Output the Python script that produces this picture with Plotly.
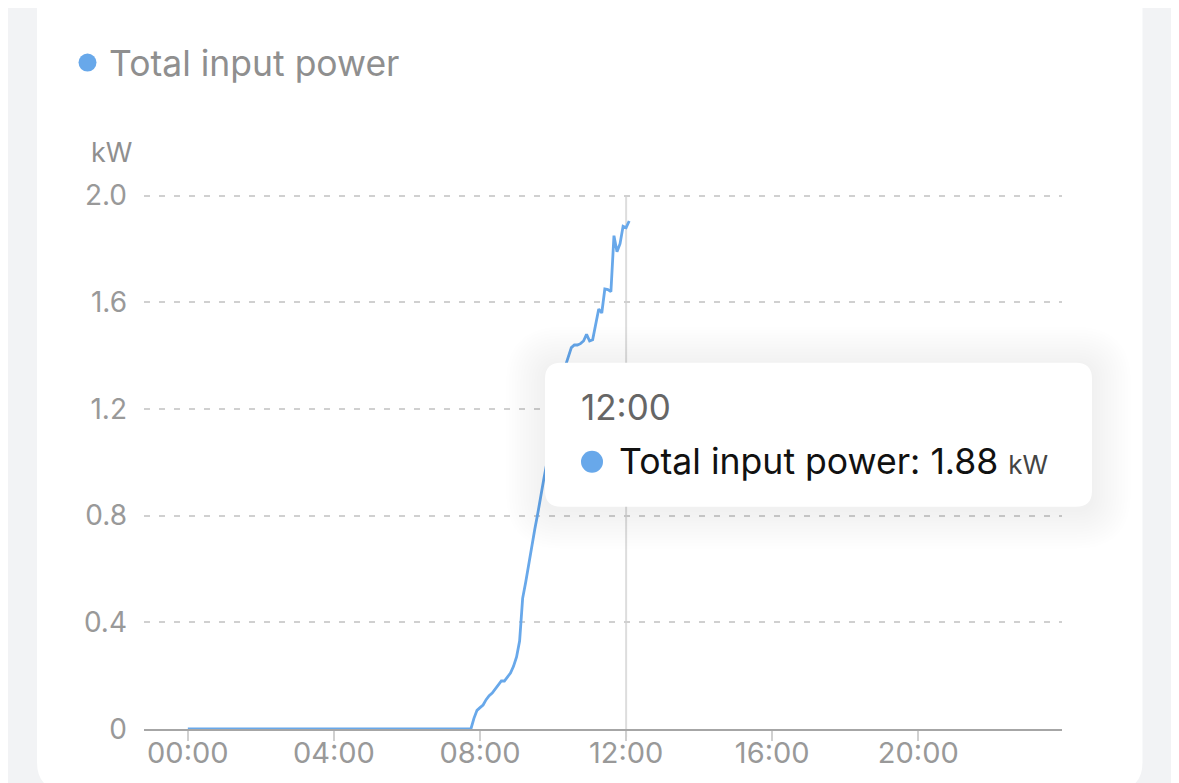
import plotly.graph_objects as go
import pandas as pd

# ---------------- data ----------------
DAY = "2024-05-01"
series_name = "Total input power"
unit = "kW"
times = ["00:00", "07:45", "07:50", "07:55", "08:00", "08:05", "08:10", "08:15", "08:20",
         "08:25", "08:30", "08:35", "08:40", "08:45", "08:50", "08:55", "09:00", "09:05",
         "09:10", "09:15", "09:20", "09:25", "09:30", "09:35", "09:40", "09:45", "09:50",
         "09:55", "10:00", "10:05", "10:10", "10:15", "10:20", "10:25", "10:30", "10:35",
         "10:40", "10:45", "10:50", "10:55", "11:00", "11:05", "11:10", "11:15", "11:20",
         "11:25", "11:30", "11:35", "11:40", "11:45", "11:50", "11:55", "12:00", "12:05"]
power_kw = [0.0, 0.0, 0.04, 0.07, 0.08, 0.09, 0.11, 0.125, 0.135,
            0.15, 0.165, 0.18, 0.18, 0.195, 0.21, 0.235, 0.27, 0.33,
            0.49, 0.55, 0.62, 0.69, 0.75, 0.81, 0.88, 0.94, 1.0,
            1.06, 1.12, 1.19, 1.26, 1.32, 1.36, 1.40, 1.43, 1.44,
            1.44, 1.445, 1.455, 1.48, 1.455, 1.46, 1.52, 1.575, 1.56,
            1.65, 1.648, 1.64, 1.85, 1.79, 1.82, 1.885, 1.88, 1.905]
x_tick_labels = ["00:00", "04:00", "08:00", "12:00", "16:00", "20:00"]
y_tick_values = [0, 0.4, 0.8, 1.2, 1.6, 2.0]
y_tick_labels = ["0", "0.4", "0.8", "1.2", "1.6", "2.0"]
hover_time = "12:00"

# ---------------- style ----------------
WIN_W, WIN_H = 1179, 783
OFF = 8  # default page margin around the figure
W, H = WIN_W - OFF, WIN_H - OFF
Y_TOP = 2.01
L, R, B = 144, 1062, 729
T = B - (B - 196) * Y_TOP / 2.0
FONT = "Inter, Roboto, 'Noto Sans', sans-serif"
BLUE = "#68a8ea"
GRAY_TXT = "#999999"

x_vals = [f"{DAY} {t}" for t in times]
hover_val = power_kw[times.index(hover_time)]
day0 = pd.Timestamp(DAY)
x_range = [day0 - pd.Timedelta(minutes=72), day0 + pd.Timedelta(hours=23, minutes=56)]


def px(xp):
    return (xp - L) / (R - L)


def py(yp):
    return (B - yp) / (B - T)


def rrect(x0, y0, x1, y1, r):
    pts = [("M", [(x0 + r, y0)]), ("L", [(x1 - r, y0)]), ("Q", [(x1, y0), (x1, y0 + r)]),
           ("L", [(x1, y1 - r)]), ("Q", [(x1, y1), (x1 - r, y1)]), ("L", [(x0 + r, y1)]),
           ("Q", [(x0, y1), (x0, y1 - r)]), ("L", [(x0, y0 + r)]), ("Q", [(x0, y0), (x0 + r, y0)])]
    s = ""
    for cmd, ps in pts:
        s += cmd + " " + " ".join(f"{px(a):.5f},{py(b):.5f}" for a, b in ps) + " "
    return s + "Z"


def circle(cx, cy, r, color):
    return dict(type="circle", xref="paper", yref="paper", x0=px(cx - r), x1=px(cx + r),
                y0=py(cy + r), y1=py(cy - r), fillcolor=color, line=dict(width=0), layer="above")


fig = go.Figure()
fig.add_trace(go.Scatter(x=x_vals, y=power_kw, mode="lines", name=series_name,
                         line=dict(color=BLUE, width=2.8), hoverinfo="skip", showlegend=False))

shapes = []
# white card
shapes.append(dict(type="path", xref="paper", yref="paper", path=rrect(37, -60, 1142.5, 790, 28),
                   fillcolor="white", line=dict(width=0), layer="below"))
# crosshair
shapes.append(dict(type="line", xref="x", yref="paper", x0=f"{DAY} {hover_time}", x1=f"{DAY} {hover_time}",
                   y0=-0.015, y1=py(196), line=dict(color="#dddddd", width=2), layer="below"))
# tooltip shadow
tx0, ty0, tx1, ty1 = 545, 363, 1092, 507
for k in range(1, 15):
    e = k * 2.8
    shapes.append(dict(type="path", xref="paper", yref="paper",
                       path=rrect(tx0 - e, ty0 - e + 3, tx1 + e, ty1 + e + 3, 16 + e),
                       fillcolor="rgba(0,0,0,0.005)", line=dict(width=0), layer="above"))
shapes.append(dict(type="path", xref="paper", yref="paper", path=rrect(tx0, ty0, tx1, ty1, 16),
                   fillcolor="white", line=dict(width=0), layer="above"))
shapes.append(circle(592, 462, 11, BLUE))
# legend dot
shapes.append(circle(87.5, 63, 9, BLUE))

annotations = [
    dict(text=series_name, x=px(107), y=py(64), xref="paper", yref="paper", xanchor="left",
         yanchor="middle", showarrow=False, font=dict(family=FONT, size=35.5, color="#8f8f8f")),
    dict(text=unit, x=px(111), y=py(153), xref="paper", yref="paper", xanchor="center",
         yanchor="middle", showarrow=False, font=dict(family=FONT, size=27, color="#8f8f8f")),
    dict(text=hover_time, x=px(579), y=py(407), xref="paper", yref="paper", xanchor="left",
         yanchor="middle", showarrow=False, font=dict(family=FONT, size=35, color="#666666")),
    dict(text=f"{series_name}: {hover_val:.2f} <span style='font-size:26px;color:#444444'>{unit}</span>",
         x=px(617), y=py(462), xref="paper", yref="paper", xanchor="left",
         yanchor="middle", showarrow=False, font=dict(family=FONT, size=35.6, color="#111111")),
]

fig.update_layout(
    width=W, height=H, autosize=False,
    margin=dict(l=L - OFF, r=WIN_W - R, t=T - OFF, b=WIN_H - B, pad=0),
    paper_bgcolor="#f2f3f5", plot_bgcolor="rgba(0,0,0,0)",
    shapes=shapes, annotations=annotations, showlegend=False,
    xaxis=dict(type="date", range=x_range, tickvals=[f"{DAY} {h}" for h in x_tick_labels],
               ticktext=x_tick_labels, showgrid=False, zeroline=False, automargin=False,
               showline=True, linecolor="#a6a6a6", linewidth=2,
               ticks="outside", ticklen=10, tickwidth=2, tickcolor="#d0d0d0",
               ticklabelstandoff=-13,
               tickfont=dict(family=FONT, size=29, color=GRAY_TXT)),
    yaxis=dict(range=[0, Y_TOP], tickvals=y_tick_values, ticktext=y_tick_labels,
               showgrid=True, gridcolor="#d0d0d0", griddash="6px,9px", gridwidth=1.5,
               zeroline=False, showline=False, ticks="", ticklabelstandoff=16, automargin=False,
               tickfont=dict(family=FONT, size=28, color=GRAY_TXT)),
)

fig.write_html("out.html")
